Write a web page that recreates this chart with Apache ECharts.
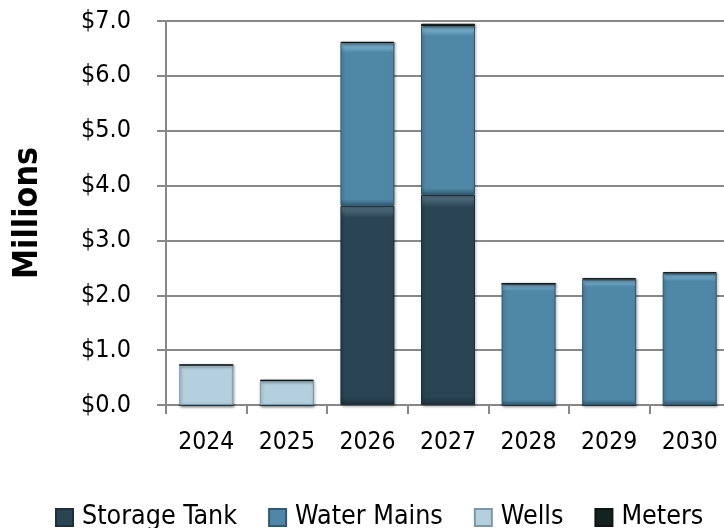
<!DOCTYPE html>
<html>
<head>
<meta charset="utf-8">
<script src="https://cdn.jsdelivr.net/npm/echarts@6/dist/echarts.min.js"></script>
<style>html,body{margin:0;padding:0;background:#fff;overflow:hidden}#c{width:730px;height:528px}</style>
</head>
<body>
<div id="c"></div>
<script>
const categories = ['2024','2025','2026','2027','2028','2029','2030'];
const storageTank = [0, 0, 3.63, 3.83, 0, 0, 0];
const waterMains = [0, 0, 2.97, 3.08, 2.21, 2.29, 2.40];
const wells = [0.73, 0.44, 0, 0, 0, 0, 0];
const meters = [0, 0.02, 0.02, 0.04, 0, 0.02, 0.02];
const yTicks = [0, 1, 2, 3, 4, 5, 6, 7];

const ctx = document.createElement('canvas').getContext('2d');
function has(f) {
  ctx.font = '72px monospace'; const a = ctx.measureText('2024 Storage Tank').width;
  ctx.font = "72px '" + f + "', monospace"; const b = ctx.measureText('2024 Storage Tank').width;
  return a !== b;
}
const candidates = ['Liberation Sans Narrow', 'DejaVu Sans Condensed', 'Liberation Sans'];
let FONT = 'Liberation Sans';
for (const f of candidates) { if (has(f)) { FONT = f; break; } }
function sizeFor(text, target, weight) {
  ctx.font = (weight || 'normal') + " 100px '" + FONT + "'";
  return Math.round(target / ctx.measureText(text).width * 100 * 10) / 10;
}
const FS = sizeFor('2024', 56);
const YFS = sizeFor('$7.0', 50);
const LFS = sizeFor('Storage Tank', 155);
const NFS = sizeFor('Millions', 132, 'bold');

function grad(light, base, dark) {
  return new echarts.graphic.LinearGradient(0, 0, 0, 1, [
    {offset: 0, color: light},
    {offset: 0.06, color: base},
    {offset: 0.96, color: base},
    {offset: 1, color: dark}
  ]);
}
function ser(name, data, light, base, dark, legendColor) {
  return {
    name: name, type: 'bar', stack: 'a', data: data, barWidth: '67%',
    color: legendColor,
    itemStyle: {color: grad(light, base, dark), borderColor: dark, borderWidth: 1,
      shadowColor: 'rgba(0,0,0,0.35)', shadowBlur: 3, shadowOffsetX: 1, shadowOffsetY: 1},
    emphasis: {disabled: true}
  };
}
const chart = echarts.init(document.getElementById('c'));
chart.setOption({
  animation: false,
  grid: {left: 166, right: 0, top: 21, bottom: 123, containLabel: false, outerBoundsMode: 'none'},
  legend: {
    top: 504, left: 55, padding: 0, itemWidth: 17, itemHeight: 17, itemGap: 31, icon: 'rect',
    textStyle: {fontFamily: FONT, fontSize: LFS, lineHeight: 20, color: '#000', padding: [0,0,0,4]},
    data: ['Storage Tank', 'Water Mains', 'Wells', 'Meters']
  },
  xAxis: {
    type: 'category', data: categories,
    axisLine: {lineStyle: {color: '#888', width: 2}},
    axisTick: {show: true, length: 9, lineStyle: {color: '#888', width: 2}},
    axisLabel: {fontFamily: FONT, fontSize: FS, color: '#000', margin: 25, interval: 0}
  },
  yAxis: {
    type: 'value', min: 0, max: 7, interval: 1,
    name: 'Millions', nameLocation: 'middle', nameGap: 121, nameRotate: 90,
    nameTextStyle: {fontFamily: FONT, fontSize: NFS, fontWeight: 'bold', color: '#000'},
    axisLine: {show: true, lineStyle: {color: '#888', width: 2}},
    axisTick: {show: true, length: 9, lineStyle: {color: '#888', width: 2}},
    splitLine: {lineStyle: {color: '#888', width: 2}},
    axisLabel: {fontFamily: FONT, fontSize: YFS, color: '#000', margin: 35,
      formatter: v => yTicks.includes(v) ? '$' + v.toFixed(1) : ''}
  },
  series: [
    ser('Storage Tank', storageTank, '#5b7888', '#2a4454', '#1c2f3a', '#2a4454'),
    ser('Water Mains', waterMains, '#8cc4e4', '#4f87a6', '#2f5a72', '#5a9ac0'),
    ser('Wells', wells, '#e2f0f6', '#b4d0de', '#7b98a6', '#b4d0de'),
    ser('Meters', meters, '#1e2f2f', '#142222', '#0c1616', '#142222')
  ]
});
</script>
</body>
</html>
